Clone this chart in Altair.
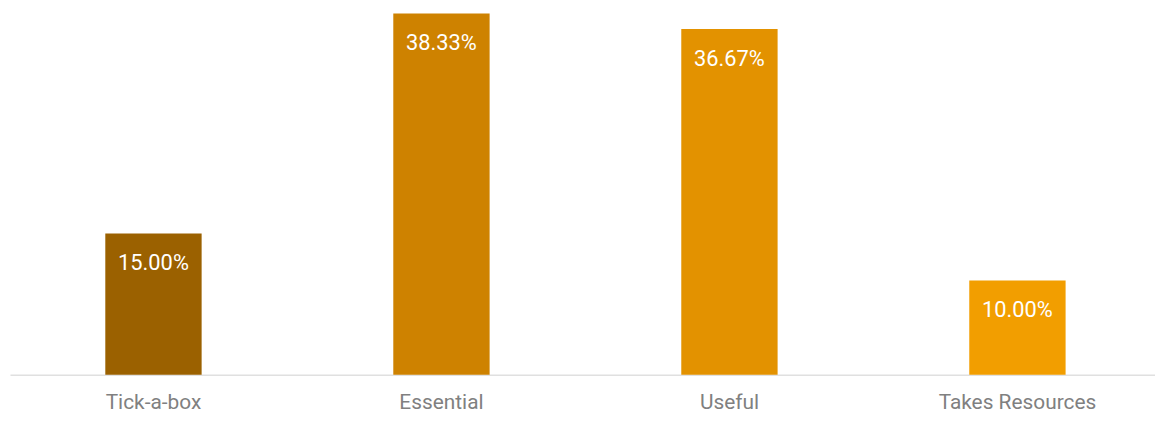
import altair as alt
import pandas as pd

categories = ["Tick-a-box", "Essential", "Useful", "Takes Resources"]
shares = [0.15, 0.3833, 0.3667, 0.10]
colors = ["#9B6100", "#CE8200", "#E39200", "#F29E00"]

df = pd.DataFrame({"category": categories, "share": shares})

FONT = "Roboto"

x = alt.X(
    "category:N",
    sort=categories,
    scale=alt.Scale(paddingInner=0.6655, paddingOuter=0.3207, align=0.516),
    axis=alt.Axis(
        title=None, labelAngle=0, ticks=False, labelFontSize=21, labelColor="#808080",
        labelFont=FONT, labelPadding=17, domainColor="#e0e0e0", domainWidth=1.5, grid=False,
    ),
)
y = alt.Y(
    "share:Q",
    scale=alt.Scale(domain=[0, 0.3833], nice=False),
    axis=None,
)

bars = alt.Chart(df).mark_bar().encode(
    x=x,
    y=y,
    color=alt.Color("category:N", scale=alt.Scale(domain=categories, range=colors), legend=None),
)

labels = alt.Chart(df).mark_text(
    color="white", fontSize=22, font=FONT, baseline="middle", dy=30
).encode(
    x=alt.X("category:N", sort=categories),
    y="share:Q",
    text=alt.Text("share:Q", format=".2%"),
)

chart = (
    alt.layer(bars, labels)
    .properties(width=1153, height=364, padding={"left": 2, "top": 4, "right": 0, "bottom": 0})
    .configure_view(stroke=None)
)

chart.save("out.html", embed_options={"renderer": "svg", "actions": False})
